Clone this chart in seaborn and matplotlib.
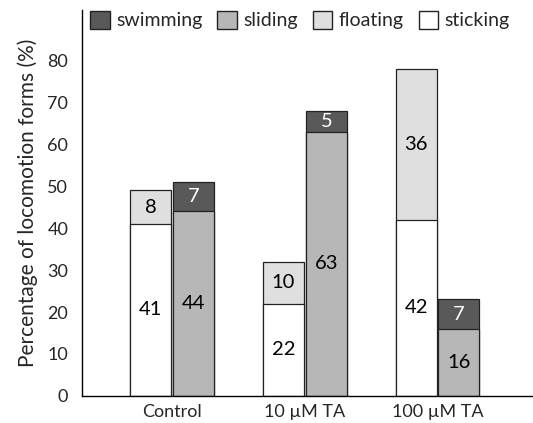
import matplotlib
matplotlib.use("Agg")
import matplotlib.pyplot as plt
import seaborn as sns
import pandas as pd
from matplotlib.patches import Patch

groups = ["Control", "10 µM TA", "100 µM TA"]
sticking = [41, 22, 42]
floating = [8, 10, 36]
sliding = [44, 63, 16]
swimming = [7, 5, 7]

c_swim = "#595959"
c_slide = "#b7b7b7"
c_float = "#dfdfdf"
c_stick = "#ffffff"

sns.set_theme(style="white")
plt.rcParams["font.family"] = ["Lato", "DejaVu Sans"]

rows_top = []
rows_bot = []
for g, st, fl, sl, sw in zip(groups, sticking, floating, sliding, swimming):
    rows_top.append({"group": g, "side": "A", "val": st + fl})
    rows_top.append({"group": g, "side": "B", "val": sl + sw})
    rows_bot.append({"group": g, "side": "A", "val": st})
    rows_bot.append({"group": g, "side": "B", "val": sl})
df_top = pd.DataFrame(rows_top)
df_bot = pd.DataFrame(rows_bot)

fig = plt.figure(figsize=(5.33, 4.23), dpi=100)
ax = fig.add_axes([0.154, 0.064, 0.846, 0.912])

kw = dict(x="group", y="val", hue="side", order=groups, hue_order=["A", "B"],
          width=0.645, gap=0.04, edgecolor="#222222", linewidth=0.9,
          legend=False, ax=ax)
sns.barplot(data=df_top, palette={"A": c_float, "B": c_swim}, **kw)
sns.barplot(data=df_bot, palette={"A": c_stick, "B": c_slide}, **kw)

n = len(groups)
bot_patches = ax.patches[2 * n:4 * n]

def find(patches, i, side):
    return patches[(0 if side == "A" else 1) * n + i]

for i in range(n):
    for side, lo, hi, c_hi in (("A", sticking[i], floating[i], "black"),
                                ("B", sliding[i], swimming[i], "white")):
        p = find(bot_patches, i, side)
        xc = p.get_x() + p.get_width() / 2
        ax.text(xc, lo / 2, str(lo), ha="center", va="center", fontsize=14.5, color="black")
        ax.text(xc, lo + hi / 2, str(hi), ha="center", va="center", fontsize=14.5, color=c_hi)

ax.set_ylim(0, 92)
ax.set_xlim(-0.68, 2.72)
ax.set_yticks(range(0, 81, 10))
ax.tick_params(axis="y", labelsize=13, length=0, pad=10)
ax.tick_params(axis="x", labelsize=13, length=0, pad=6)
ax.set_xlabel("")
ax.set_ylabel("Percentage of locomotion forms (%)", fontsize=15, labelpad=7)
for s in ["top", "right"]:
    ax.spines[s].set_visible(False)
for s in ["left", "bottom"]:
    ax.spines[s].set_color("black")
    ax.spines[s].set_linewidth(1.0)

handles = [Patch(facecolor=c_swim, edgecolor="#222222", label="swimming"),
           Patch(facecolor=c_slide, edgecolor="#222222", label="sliding"),
           Patch(facecolor=c_float, edgecolor="#222222", label="floating"),
           Patch(facecolor=c_stick, edgecolor="#222222", label="sticking")]
fig.legend(handles=handles, loc="center", bbox_to_anchor=(0.563, 0.952), ncol=4,
           frameon=False, fontsize=14, handlelength=1.0, handleheight=1.0,
           handletextpad=0.35, columnspacing=0.75, borderaxespad=0)

fig.savefig("out.png", dpi=100)
